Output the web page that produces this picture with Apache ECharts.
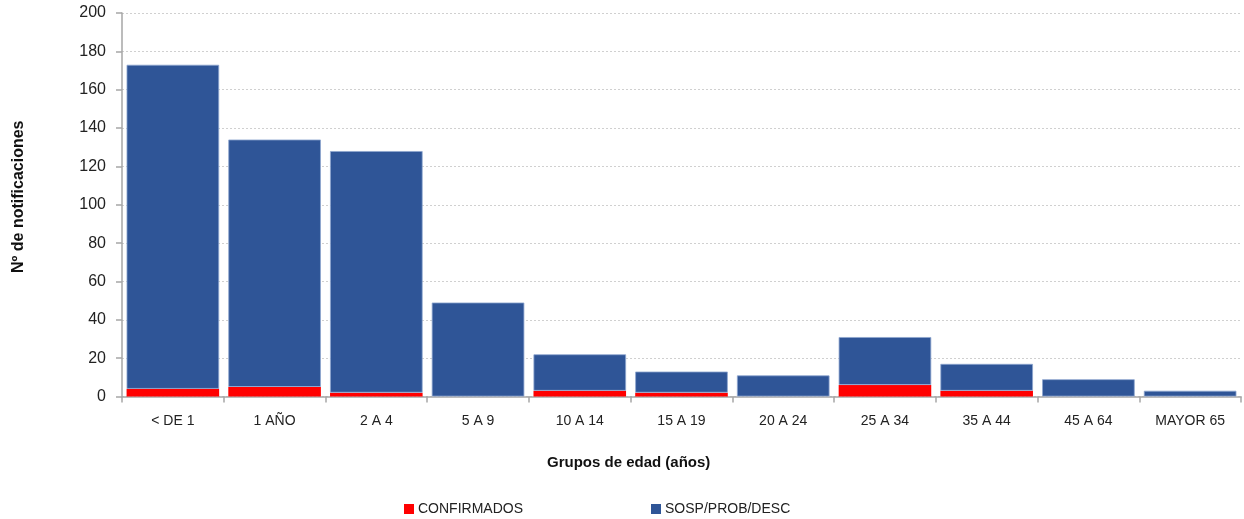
<!DOCTYPE html>
<html>
<head>
<meta charset="utf-8">
<script src="https://cdn.jsdelivr.net/npm/echarts@6/dist/echarts.min.js"></script>
<style>
  html, body { margin: 0; padding: 0; background: #fff; }
  #chart { width: 1244px; height: 519px; }
</style>
</head>
<body>
<div id="chart"></div>
<script>
// Notificaciones por grupo de edad
const categories = ['< DE 1', '1 AÑO', '2 A 4', '5 A 9', '10 A 14', '15 A 19', '20 A 24', '25 A 34', '35 A 44', '45 A 64', 'MAYOR 65'];
const confirmados = [4, 5, 2, 0, 3, 2, 0, 6, 3, 0, 0];
const sospProbDesc = [169, 129, 126, 49, 19, 11, 11, 25, 14, 9, 3];
const yTicks = { min: 0, max: 200, interval: 20 };

const FONT = "'Liberation Sans', Arial, sans-serif";
const chart = echarts.init(document.getElementById('chart'), null, { renderer: 'canvas' });

chart.setOption({
  animation: false,
  textStyle: { fontFamily: FONT },
  grid: { left: 122, right: 3, top: 13, bottom: 122.5, containLabel: false },
  legend: [
    {
      data: ['CONFIRMADOS'], left: 399, top: 497, icon: 'rect', itemWidth: 10, itemHeight: 10,
      itemStyle: { borderWidth: 0 },
      textStyle: { fontFamily: FONT, fontSize: 14, color: '#222', padding: [0, 0, 0, -1] }
    },
    {
      data: ['SOSP/PROB/DESC'], left: 646, top: 497, icon: 'rect', itemWidth: 10, itemHeight: 10,
      itemStyle: { borderWidth: 0 },
      textStyle: { fontFamily: FONT, fontSize: 14, color: '#222', padding: [0, 0, 0, -1] }
    }
  ],
  graphic: [
    {
      type: 'text', left: 547, top: 455,
      style: { text: 'Grupos de edad (años)', font: "bold 15px " + FONT, fill: '#111' }
    }
  ],
  xAxis: {
    type: 'category',
    data: categories,
    axisLine: { lineStyle: { color: '#A6A6A6', width: 1.5 } },
    axisTick: { show: true, alignWithLabel: false, length: 6, lineStyle: { color: '#A6A6A6', width: 1.5 } },
    axisLabel: { fontFamily: FONT, fontSize: 14, color: '#222', margin: 18 },
    splitLine: { show: false }
  },
  yAxis: {
    type: 'value',
    min: yTicks.min, max: yTicks.max, interval: yTicks.interval,
    name: 'Nº de notificaciones',
    nameLocation: 'middle',
    nameGap: 95,
    nameRotate: 90,
    nameTextStyle: { fontFamily: FONT, fontSize: 16, fontWeight: 'bold', color: '#111', padding: [0, 0, 0, 16] },
    axisLine: { show: true, lineStyle: { color: '#A6A6A6', width: 1.5 } },
    axisTick: { show: true, length: 6, lineStyle: { color: '#A6A6A6', width: 1.5 } },
    axisLabel: { fontFamily: FONT, fontSize: 16, color: '#222', margin: 16 },
    splitLine: { show: true, lineStyle: { color: '#D0D0D0', type: [2, 2], width: 1 } }
  },
  series: [
    {
      name: 'CONFIRMADOS',
      type: 'bar',
      stack: 'total',
      data: confirmados,
      barCategoryGap: '9%',
      itemStyle: { color: '#FF0000' }
    },
    {
      name: 'SOSP/PROB/DESC',
      type: 'bar',
      stack: 'total',
      data: sospProbDesc,
      barCategoryGap: '9%',
      itemStyle: { color: '#2F5597', borderColor: '#8EA6CF', borderWidth: 0.8 }
    }
  ]
});
</script>
</body>
</html>
